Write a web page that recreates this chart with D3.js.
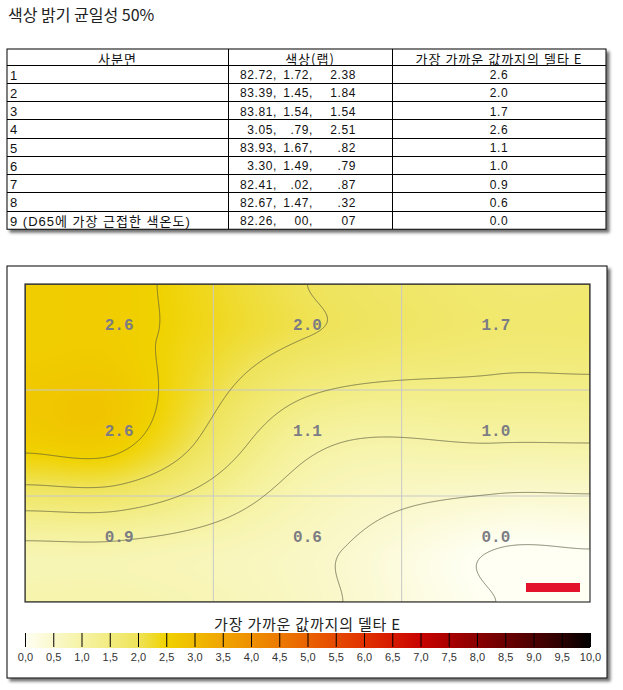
<!DOCTYPE html>
<html>
<head>
<meta charset="utf-8">
<script src="https://cdn.jsdelivr.net/npm/d3@7"></script>
<style>
  html, body { margin: 0; padding: 0; background: #ffffff; }
  svg { display: block; }
  text { font-family: "Liberation Sans", "Noto Sans CJK KR", sans-serif; }
</style>
</head>
<body>
<script>
// ---------------- data ----------------
const title = "색상 밝기 균일성 50%";
const headers = ["사분면", "색상(랩)", "가장 가까운 값까지의 델타 E"];
const quadrants = ["1", "2", "3", "4", "5", "6", "7", "8", "9 (D65에 가장 근접한 색온도)"];
const labL = ["82.72", "83.39", "83.81", "3.05", "83.93", "3.30", "82.41", "82.67", "82.26"];
const labA = ["1.72", "1.45", "1.54", ".79", "1.67", "1.49", ".02", "1.47", "00"];
const labB = ["2.38", "1.84", "1.54", "2.51", ".82", ".79", ".87", ".32", "07"];
const deltaE = [2.6, 2.0, 1.7, 2.6, 1.1, 1.0, 0.9, 0.6, 0.0];
const legendTitle = "가장 가까운 값까지의 델타 E";
const legendTicks = [0, 0.5, 1, 1.5, 2, 2.5, 3, 3.5, 4, 4.5, 5, 5.5, 6, 6.5, 7, 7.5, 8, 8.5, 9, 9.5, 10];
const legendColors = ["#fffff4", "#faf8cc", "#f6f3a6", "#f2ec80", "#efe35a", "#f0d200", "#f0bb00",
  "#f0a400", "#ee9000", "#ec7a00", "#ea6200", "#e64a00", "#e03200", "#d61a00", "#c80400",
  "#aa0000", "#8a0000", "#6c0000", "#4c0000", "#2c0000", "#000000"];
const contourLevels = [0, 0.5, 1, 1.5, 2, 2.5];

// ---------------- layout ----------------
const W = 623, H = 690;
const svg = d3.select("body").append("svg").attr("width", W).attr("height", H);
const defs = svg.append("defs");
const shadow = defs.append("filter").attr("id", "shadow")
  .attr("x", "-5%").attr("y", "-5%").attr("width", "115%").attr("height", "115%");
shadow.append("feDropShadow").attr("dx", 3).attr("dy", 3).attr("stdDeviation", 1.6)
  .attr("flood-color", "#444").attr("flood-opacity", 0.75);

// title
svg.append("text").attr("x", 8).attr("y", 21)
  .style("font-family", "'Noto Sans CJK KR', sans-serif")
  .style("font-size", "16px").attr("fill", "#222").text(title);

// ---------------- table ----------------
const T = { x0: 7, x1: 606, y0: 49, headH: 16, rowH: 18.25 };
const colX = [7, 228, 392, 606];
const tg = svg.append("g");
const tH = T.headH + T.rowH * quadrants.length;
tg.append("rect").attr("x", T.x0).attr("y", T.y0).attr("width", T.x1 - T.x0).attr("height", tH)
  .attr("fill", "#fff").attr("stroke", "#000").attr("filter", "url(#shadow)");
const rowY = i => T.y0 + T.headH + i * T.rowH;
tg.selectAll("line.h").data(d3.range(quadrants.length)).join("line")
  .attr("x1", T.x0).attr("x2", T.x1).attr("y1", i => rowY(i)).attr("y2", i => rowY(i))
  .attr("stroke", "#000").attr("shape-rendering", "crispEdges");
tg.selectAll("line.v").data(colX.slice(1, 3)).join("line")
  .attr("x1", d => d).attr("x2", d => d).attr("y1", T.y0).attr("y2", T.y0 + tH)
  .attr("stroke", "#000").attr("shape-rendering", "crispEdges");
tg.selectAll("text.head").data(headers).join("text")
  .attr("x", (d, i) => (colX[i] + colX[i + 1]) / 2).attr("y", T.y0 + T.headH / 2 + 1)
  .attr("text-anchor", "middle").attr("dominant-baseline", "central")
  .style("font-family", "'Noto Sans CJK KR', sans-serif")
  .style("font-size", "13px").style("letter-spacing", "1px").attr("fill", "#111").text(d => d);
const rows = tg.selectAll("g.row").data(quadrants.map((q, i) => ({ q, i })))
  .join("g").attr("transform", d => `translate(0,${rowY(d.i) + T.rowH / 2 + 1})`);
const cellText = (sel) => sel.attr("dominant-baseline", "central").style("font-size", "12px")
  .style("letter-spacing", "0.6px").attr("fill", "#111");
rows.append("text").attr("x", 10).call(cellText)
  .style("font-family", "'Liberation Sans','Noto Sans CJK KR',sans-serif")
  .style("font-size", "13px").style("letter-spacing", "1px").text(d => d.q);
rows.append("text").attr("x", 277).attr("text-anchor", "end").call(cellText).text(d => labL[d.i] + ",");
rows.append("text").attr("x", 313).attr("text-anchor", "end").call(cellText).text(d => labA[d.i] + ",");
rows.append("text").attr("x", 356).attr("text-anchor", "end").call(cellText).text(d => labB[d.i]);
rows.append("text").attr("x", (colX[2] + colX[3]) / 2).attr("text-anchor", "middle")
  .call(cellText).text(d => deltaE[d.i].toFixed(1));

// ---------------- chart panel ----------------
svg.append("rect").attr("x", 7).attr("y", 266).attr("width", 600).attr("height", 412)
  .attr("fill", "#fff").attr("stroke", "#000").attr("filter", "url(#shadow)");

const P = { x0: 25, x1: 590, y0: 284, y1: 602 };
const pw = P.x1 - P.x0, ph = P.y1 - P.y0;
const xs = d3.scaleLinear().domain([0, 3]).range([P.x0, P.x1]);
const ys = d3.scaleLinear().domain([0, 3]).range([P.y0, P.y1]);
const color = d3.scaleLinear().domain(legendTicks).range(legendColors).interpolate(d3.interpolateRgb).clamp(true);

const grid = [0, 1, 2].map(r => [0, 1, 2].map(c => deltaE[r * 3 + c]));

// Catmull-Rom spline through cell centres plus edge nodes holding the nearest centre value
const nodePos = [0, 0.5, 1.5, 2.5, 3];
const nodeIdx = [0, 0, 1, 2, 2];
function spline(vals, s) {
  const n = nodePos.length;
  const m = vals.map((v, i) => {
    const a = Math.max(0, i - 1), b = Math.min(n - 1, i + 1);
    return (vals[b] - vals[a]) / (nodePos[b] - nodePos[a]);
  });
  let i = 0;
  while (i < n - 2 && s > nodePos[i + 1]) i++;
  const h = nodePos[i + 1] - nodePos[i];
  const t = Math.max(0, Math.min(1, (s - nodePos[i]) / h));
  const t2 = t * t, t3 = t2 * t;
  return (2 * t3 - 3 * t2 + 1) * vals[i] + (t3 - 2 * t2 + t) * h * m[i]
    + (-2 * t3 + 3 * t2) * vals[i + 1] + (t3 - t2) * h * m[i + 1];
}
const colNodes = nodeIdx.map(c => nodeIdx.map(r => grid[r][c])); // per column, vertical node values

const values = new Float64Array(pw * ph);
for (let j = 0; j < ph; j++) {
  const sv = ys.invert(P.y0 + j + 0.5);
  const rowVals = colNodes.map(cv => spline(cv, sv));
  for (let i = 0; i < pw; i++) {
    const su = xs.invert(P.x0 + i + 0.5);
    values[j * pw + i] = spline(rowVals, su);
  }
}

const canvas = document.createElement("canvas");
canvas.width = pw; canvas.height = ph;
const ctx = canvas.getContext("2d");
const img = ctx.createImageData(pw, ph);
for (let k = 0; k < pw * ph; k++) {
  const c = d3.rgb(color(values[k]));
  img.data[k * 4] = c.r; img.data[k * 4 + 1] = c.g; img.data[k * 4 + 2] = c.b; img.data[k * 4 + 3] = 255;
}
ctx.putImageData(img, 0, 0);

defs.append("clipPath").attr("id", "plotclip").append("rect")
  .attr("x", P.x0).attr("y", P.y0).attr("width", pw).attr("height", ph);
const pg = svg.append("g").attr("clip-path", "url(#plotclip)");
pg.append("image").attr("x", P.x0).attr("y", P.y0).attr("width", pw).attr("height", ph)
  .attr("preserveAspectRatio", "none").attr("href", canvas.toDataURL());

// grid lines
pg.selectAll("line.gx").data([1, 2]).join("line")
  .attr("x1", d => xs(d)).attr("x2", d => xs(d)).attr("y1", P.y0).attr("y2", P.y1)
  .attr("stroke", "#c8c8c8").attr("stroke-width", 1);
pg.selectAll("line.gy").data([1, 2]).join("line")
  .attr("y1", d => ys(d)).attr("y2", d => ys(d)).attr("x1", P.x0).attr("x2", P.x1)
  .attr("stroke", "#c8c8c8").attr("stroke-width", 1);

// contours
const contours = d3.contours().size([pw, ph]).thresholds(contourLevels)(values);
pg.append("g").attr("transform", `translate(${P.x0},${P.y0})`)
  .selectAll("path").data(contours).join("path")
  .attr("d", d3.geoPath()).attr("fill", "none")
  .attr("stroke", "#55553a").attr("stroke-opacity", 0.7).attr("stroke-width", 1);

// cell labels
const cells = deltaE.map((v, k) => ({ v, r: Math.floor(k / 3), c: k % 3 }));
svg.append("g").selectAll("text").data(cells).join("text")
  .attr("x", d => xs(d.c + 0.5)).attr("y", d => ys(d.r + 0.5) - 11)
  .attr("text-anchor", "middle").attr("dominant-baseline", "central")
  .style("font-family", "'Liberation Mono', 'DejaVu Sans Mono', monospace")
  .style("font-weight", "bold").style("font-size", "16px")
  .attr("fill", "#7c7c84").text(d => d.v.toFixed(1));

// red marker
svg.append("rect").attr("x", xs(3) - 64).attr("y", ys(3) - 19).attr("width", 54).attr("height", 9)
  .attr("fill", "#e2132a");

// plot border
svg.append("rect").attr("x", P.x0).attr("y", P.y0).attr("width", pw).attr("height", ph)
  .attr("fill", "none").attr("stroke", "#333").attr("stroke-width", 1.2);

// ---------------- legend ----------------
const ls = d3.scaleLinear().domain([0, 10]).range([P.x0, P.x1]);
const grad = defs.append("linearGradient").attr("id", "lg").attr("x1", "0%").attr("x2", "100%");
grad.selectAll("stop").data(legendTicks).join("stop")
  .attr("offset", d => (d / 10 * 100) + "%").attr("stop-color", (d, i) => legendColors[i]);
svg.append("text").attr("x", (P.x0 + P.x1) / 2).attr("y", 623)
  .attr("text-anchor", "middle").attr("dominant-baseline", "central")
  .style("font-family", "'Noto Sans CJK KR', sans-serif").style("font-size", "15px")
  .style("letter-spacing", "0.8px").attr("fill", "#222").text(legendTitle);
svg.append("rect").attr("x", P.x0).attr("y", 633).attr("width", pw).attr("height", 15)
  .attr("fill", "url(#lg)");
const ax = svg.append("g").attr("transform", "translate(0,633)")
  .call(d3.axisBottom(ls).tickValues(legendTicks).tickSize(14).tickPadding(6)
    .tickFormat(d => d3.format(".1f")(d).replace(".", ",")));
ax.select(".domain").remove();
ax.selectAll(".tick line").attr("stroke", "#000");
ax.selectAll(".tick text").attr("fill", "#333")
  .style("font-family", "'Liberation Sans', sans-serif").style("font-size", "11px");
</script>
</body>
</html>
